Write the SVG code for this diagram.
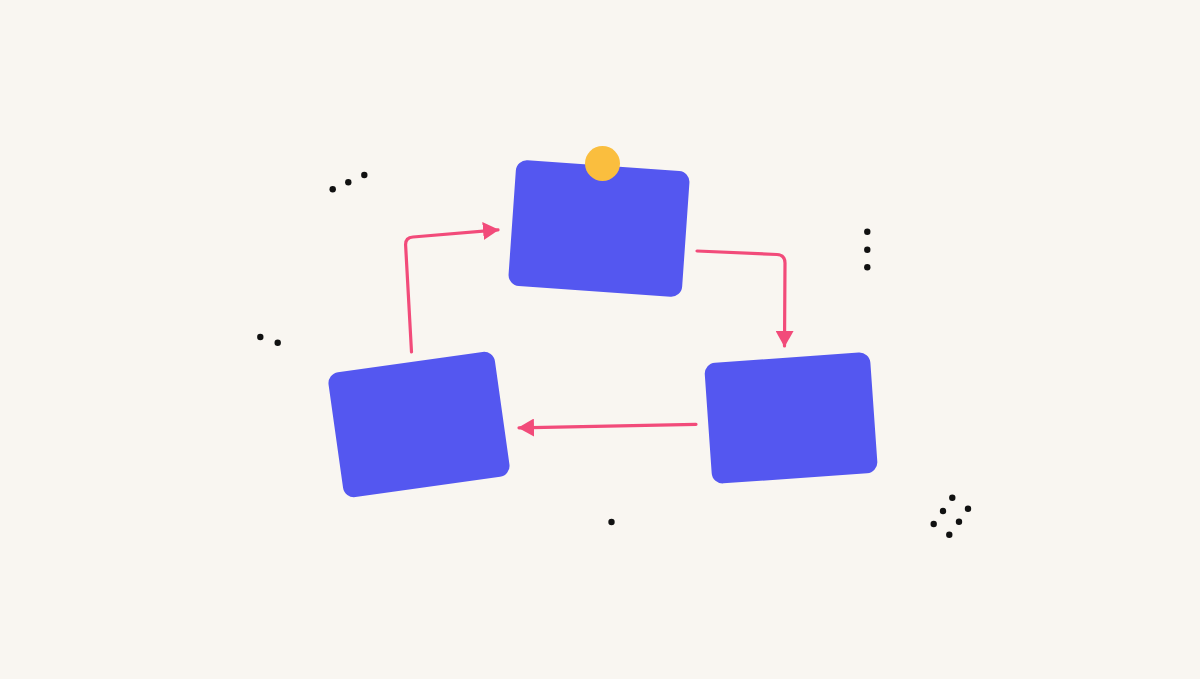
<svg xmlns="http://www.w3.org/2000/svg" width="1200" height="679" viewBox="0 0 1200 679">
<style>
.box{fill:#5457F0}
.conn{fill:none;stroke:#F24B7A;stroke-width:3.2;stroke-linecap:round;stroke-linejoin:round}
.dot{fill:#111111}
</style>
<defs>
<marker id="ah" viewBox="0 0 16 18" refX="15" refY="9" markerWidth="16" markerHeight="18" markerUnits="userSpaceOnUse" orient="auto">
<path d="M0,0 L16,9 L0,18 Z" fill="#F24B7A"/>
</marker>
</defs>
<rect width="1200" height="679" fill="#F9F6F1"/>
<g id="node-top">
<rect class="box" x="-87" y="-63" width="174" height="126" rx="11" transform="translate(599,228.5) rotate(4)"/>
<circle cx="602.5" cy="163.5" r="17.5" fill="#FABE3E"/>
</g>
<g id="node-left">
<rect class="box" x="-84" y="-63" width="168" height="126" rx="11" transform="translate(419,424.5) rotate(-8)"/>
</g>
<g id="node-right">
<rect class="box" x="-83" y="-60" width="166" height="121" rx="11" transform="translate(791,417.5) rotate(-4)"/>
</g>
<g id="connectors">
<path class="conn" d="M411.5,352 L405.6,245 Q405.3,237.5 413,237 L498,229.8" marker-end="url(#ah)"/>
<path class="conn" d="M697,251 L777,254.5 Q785,255 785,263 L784.5,346" marker-end="url(#ah)"/>
<path class="conn" d="M696,424.3 L519,427.8" marker-end="url(#ah)"/>
</g>
<g id="dots">
<circle class="dot" cx="332.7" cy="189.3" r="3.2"/>
<circle class="dot" cx="348.3" cy="182.3" r="3.2"/>
<circle class="dot" cx="364.3" cy="175" r="3.2"/>
<circle class="dot" cx="260.3" cy="337" r="3.2"/>
<circle class="dot" cx="277.7" cy="342.7" r="3.2"/>
<circle class="dot" cx="867.3" cy="231.7" r="3.2"/>
<circle class="dot" cx="867.3" cy="249.7" r="3.2"/>
<circle class="dot" cx="867.3" cy="267.3" r="3.2"/>
<circle class="dot" cx="611.5" cy="522" r="3.2"/>
<circle class="dot" cx="952.3" cy="497.7" r="3.2"/>
<circle class="dot" cx="943" cy="511" r="3.2"/>
<circle class="dot" cx="968" cy="508.7" r="3.2"/>
<circle class="dot" cx="933.7" cy="524" r="3.2"/>
<circle class="dot" cx="959" cy="521.7" r="3.2"/>
<circle class="dot" cx="949.3" cy="534.7" r="3.2"/>
</g>
</svg>
